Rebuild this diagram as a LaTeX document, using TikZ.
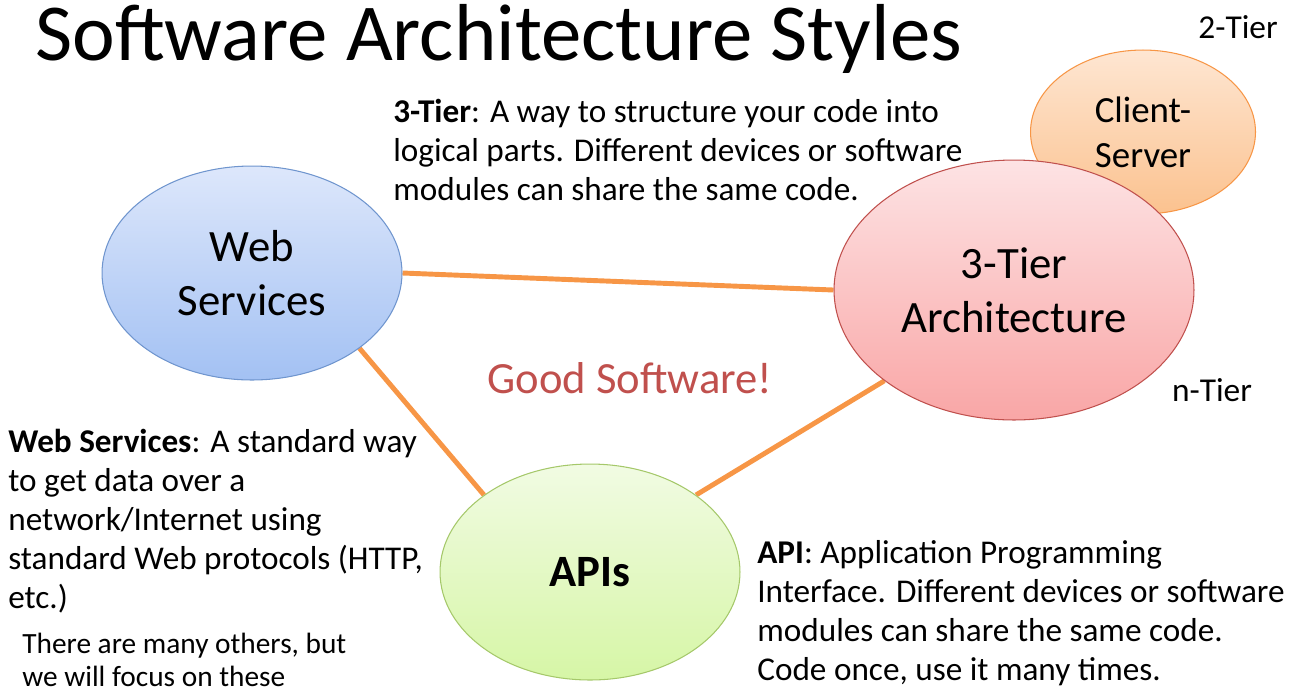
\documentclass[tikz,border=0pt]{standalone}
\usepackage{fontspec}
\setmainfont{Carlito}
\usetikzlibrary{shapes.geometric,backgrounds}

\definecolor{lienorange}{HTML}{F79646}
\definecolor{bordbleu}{HTML}{6F95CE}
\definecolor{bordrouge}{HTML}{C0504D}
\definecolor{bordvert}{HTML}{A5C86A}
\definecolor{texterouge}{HTML}{C0504D}
\definecolor{bleuhaut}{HTML}{DDE7FB}
\definecolor{bleubas}{HTML}{A3C1F3}
\definecolor{rougehaut}{HTML}{FDE3E4}
\definecolor{rougebas}{HTML}{F9A6A6}
\definecolor{orangehaut}{HTML}{FEE6D2}
\definecolor{orangebas}{HTML}{FBC28F}
\definecolor{verthaut}{HTML}{F1FBE3}
\definecolor{vertbas}{HTML}{D6F6A6}

\tikzset{
  bulle/.style={ellipse,inner sep=0pt,line width=0.6pt,align=center},
  texte/.style={anchor=base west,inner sep=0pt,align=left,font=\fontsize{18.9}{22.2}\selectfont},
  lien/.style={-,draw=lienorange,line width=2.8pt}
}

\begin{document}
\begin{tikzpicture}[x=0.02cm,y=-0.02cm]
\useasboundingbox (0,0) rectangle (1297,691);

		%\node (nom node) at(x,y) [options] {affichage} ;
		\node (node titre) at(35,60) [anchor=base west,inner sep=0pt,font=\fontsize{46}{52}\selectfont] {Software Architecture Styles} ;
		\node (node cs) at(1143,132) [bulle,minimum width=4.5cm,minimum height=3.28cm,draw=lienorange,top color=orangehaut,bottom color=orangebas,font=\fontsize{21}{25.5}\selectfont] {Client-\\Server} ;
		\node (node web) at(252,273) [bulle,minimum width=6cm,minimum height=4.28cm,draw=bordbleu,top color=bleuhaut,bottom color=bleubas,font=\fontsize{25.5}{30.5}\selectfont] {Web\\Services} ;
		\node (node tier) at(1014,290) [bulle,minimum width=7.2cm,minimum height=5.2cm,draw=bordrouge,top color=rougehaut,bottom color=rougebas,font=\fontsize{25.5}{30.5}\selectfont] {3-Tier\\Architecture} ;
		\node (node api) at(590,572) [bulle,minimum width=6cm,minimum height=4.32cm,draw=bordvert,top color=verthaut,bottom color=vertbas,font=\fontsize{25.5}{30.5}\selectfont\bfseries] {APIs} ;

		\node (node deux) at(1238,27) [font=\fontsize{19}{22}\selectfont] {2-Tier} ;
		\node (node n) at(1212,390) [font=\fontsize{19}{22}\selectfont] {n-Tier} ;
		\node (node bon) at(630,378) [text=texterouge,font=\fontsize{25.4}{30}\selectfont] {Good Software!} ;

%ancre base = ligne de base de la derniere ligne
		\node (node txt tier) at(393,200) [texte] {\textbf{3-Tier}: A way to structure your code into\\logical parts. Different devices or software\\modules can share the same code.} ;
		\node (node txt web) at(8,608) [texte] {\textbf{Web Services}: A standard way\\to get data over a\\network/Internet using\\standard Web protocols (HTTP,\\etc.)} ;
		\node (node txt api) at(757,680) [texte] {\textbf{API}: Application Programming\\Interface. Different devices or software\\modules can share the same code.\\Code once, use it many times.} ;
		\node (node autres) at(22,686) [texte,font=\fontsize{16.7}{18.7}\selectfont] {There are many others, but\\we will focus on these} ;

%les liens passent derriere les bulles
	\begin{pgfonlayer}{background}
		\path
		(node web.east) edge[lien] (node tier.west)
		(node web.-35) edge[lien] (node api.144)
		(node api.36) edge[lien] (node tier.215)
		;
	\end{pgfonlayer}
\end{tikzpicture}
\end{document}
